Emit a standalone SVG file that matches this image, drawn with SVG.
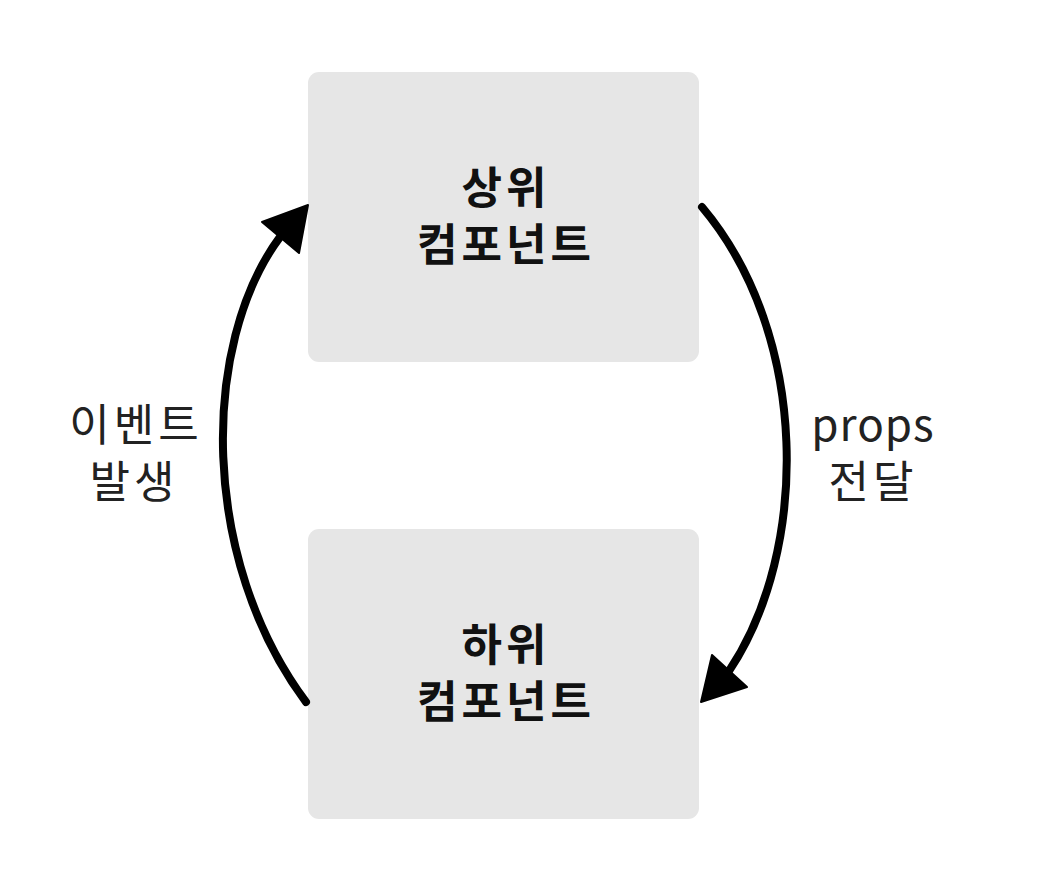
<svg xmlns="http://www.w3.org/2000/svg" width="1062" height="888" viewBox="0 0 1062 888">
<style>
.box{fill:#e6e6e6;}
.title{font-family:"Noto Sans CJK KR","Noto Sans",sans-serif;font-size:44px;font-weight:bold;fill:#111;text-anchor:middle;letter-spacing:4px;}
.lbl{font-family:"Noto Sans CJK KR","Noto Sans",sans-serif;font-size:44px;fill:#222;text-anchor:middle;letter-spacing:4px;}
.latin{letter-spacing:1px;}
.conn{fill:none;stroke:#000;stroke-width:8;stroke-linecap:round;}
.head{fill:#000;stroke:#000;stroke-width:2;stroke-linejoin:round;}
</style>
<rect width="1062" height="888" fill="#fff"/>
<g id="parent">
<rect class="box" x="308" y="72" width="391" height="290" rx="11"/>
<text class="title" x="506" y="204">상위</text>
<text class="title" x="506" y="261">컴포넌트</text>
</g>
<g id="child">
<rect class="box" x="308" y="529" width="391" height="290" rx="11"/>
<text class="title" x="506" y="661">하위</text>
<text class="title" x="506" y="718">컴포넌트</text>
</g>
<g id="connectors">
<path class="conn" d="M 306 702 C 200 560, 200 345, 280 237"/>
<polygon class="head" points="308,205 262,222 299,253"/>
<path class="conn" d="M 702 207 C 810 335, 810 550, 729 671"/>
<polygon class="head" points="701,702 712,655 747,687"/>
</g>
<g id="label-event">
<text class="lbl" x="136" y="441">이벤트</text>
<text class="lbl" x="134" y="498">발생</text>
</g>
<g id="label-props">
<text class="lbl latin" x="873" y="441">props</text>
<text class="lbl" x="873" y="498">전달</text>
</g>
</svg>
